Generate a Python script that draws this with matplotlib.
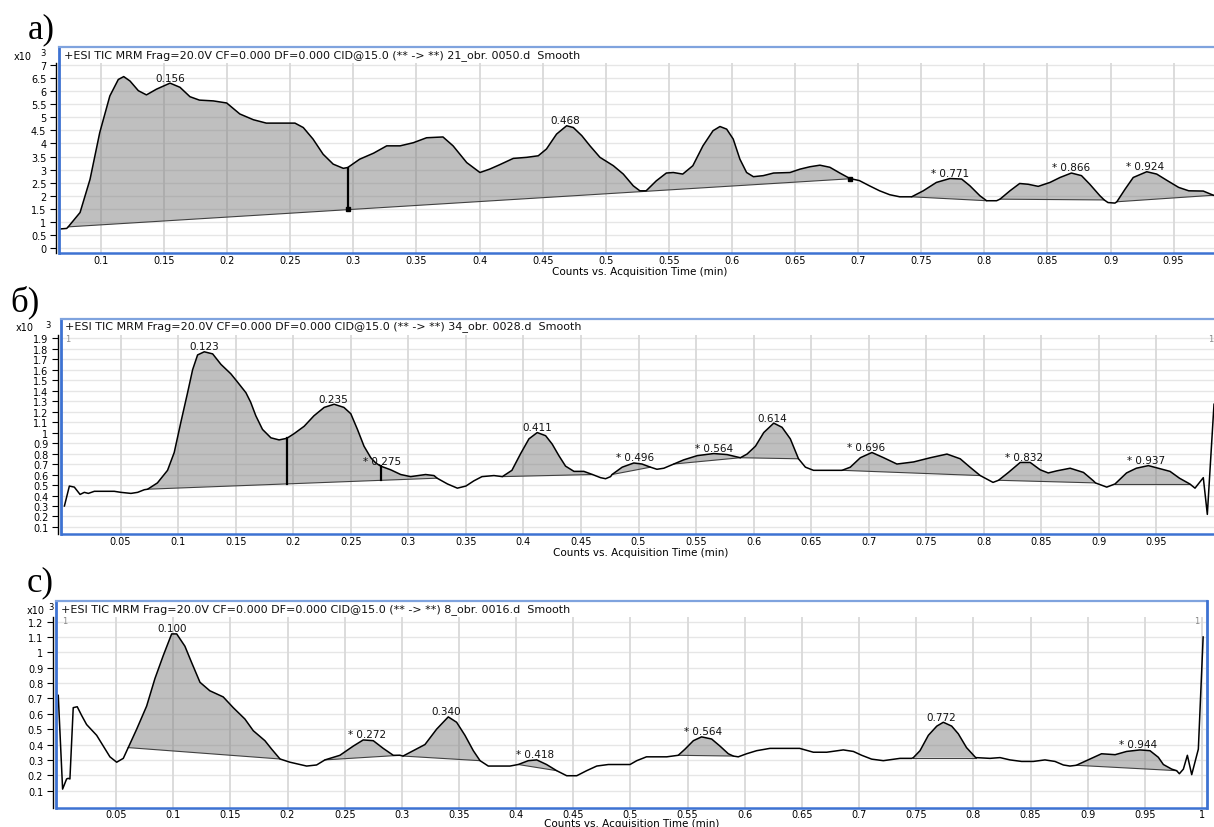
import numpy as np
import matplotlib
matplotlib.use("Agg")
import matplotlib.pyplot as plt
from matplotlib.lines import Line2D

# ---------------- DATA ----------------
# Panel a)
a_x = [0.0675, 0.0728, 0.0740, 0.0834, 0.0913, 0.0990, 0.1070, 0.1137, 0.1180, 0.1230,
       0.1296, 0.1360, 0.1440, 0.1547, 0.1626, 0.1705, 0.1780, 0.1890, 0.1996, 0.2100,
       0.2207, 0.2310, 0.2445, 0.2537, 0.2603, 0.2680, 0.2760, 0.2840, 0.2920, 0.2955,
       0.3050, 0.3160, 0.3264, 0.3370, 0.3475, 0.3580, 0.3710, 0.3790, 0.3898, 0.4003,
       0.4080, 0.4160, 0.4267, 0.4373, 0.4465, 0.4530, 0.4610, 0.4690, 0.4743, 0.4810,
       0.4875, 0.4954, 0.5060, 0.5139, 0.5218, 0.5270, 0.5320, 0.5400, 0.5480, 0.5535,
       0.5610, 0.5690, 0.5770, 0.5850, 0.5905, 0.5958, 0.6010, 0.6063, 0.6116, 0.6170,
       0.6248, 0.6330, 0.6460, 0.6540, 0.6618, 0.6697, 0.6776, 0.6855, 0.6935, 0.7010,
       0.7090, 0.7170, 0.7250, 0.7330, 0.7424, 0.7516, 0.7620, 0.7727, 0.7820, 0.7886,
       0.7965, 0.8018, 0.8097, 0.8124, 0.8203, 0.8280, 0.8348, 0.8427, 0.8520, 0.8600,
       0.8690, 0.8770, 0.8836, 0.8916, 0.8950, 0.8980, 0.9035, 0.9050, 0.9115, 0.9180,
       0.9287, 0.9366, 0.9450, 0.9540, 0.9620, 0.9735, 0.9815]
a_y = [0.73, 0.75, 0.81, 1.36, 2.63, 4.42, 5.82, 6.45, 6.56, 6.39,
       6.02, 5.86, 6.08, 6.31, 6.15, 5.79, 5.66, 5.63, 5.55, 5.13,
       4.91, 4.78, 4.78, 4.78, 4.61, 4.17, 3.59, 3.21, 3.05, 3.08,
       3.40, 3.63, 3.91, 3.91, 4.03, 4.22, 4.25, 3.91, 3.27, 2.89,
       3.02, 3.19, 3.43, 3.47, 3.53, 3.79, 4.36, 4.68, 4.61, 4.30,
       3.91, 3.47, 3.15, 2.83, 2.38, 2.19, 2.19, 2.57, 2.87, 2.89,
       2.83, 3.15, 3.91, 4.49, 4.65, 4.55, 4.17, 3.40, 2.89, 2.73,
       2.77, 2.87, 2.89, 3.02, 3.11, 3.17, 3.09, 2.87, 2.66, 2.58,
       2.38, 2.19, 2.04, 1.96, 1.96, 2.19, 2.51, 2.66, 2.64, 2.38,
       2.00, 1.81, 1.81, 1.87, 2.19, 2.47, 2.44, 2.36, 2.51, 2.70,
       2.87, 2.77, 2.44, 2.00, 1.84, 1.74, 1.72, 1.77, 2.25, 2.70,
       2.92, 2.83, 2.58, 2.32, 2.19, 2.18, 2.02]
# integration baselines: (x_start, y_start, x_end, y_end)
a_peaks = [(0.0740, 0.81, 0.6935, 2.65), (0.7424, 1.96, 0.8018, 1.81),
           (0.8124, 1.87, 0.8950, 1.84), (0.9050, 1.77, 0.9815, 2.02)]
a_dividers = [(0.2955, 3.08, 1.48)]
a_marks_x = [0.2955, 0.6935]
a_marks_y = [1.48, 2.65]
a_labels = ["0.156", "0.468", "* 0.771", "* 0.866", "* 0.924"]
a_label_x = [0.1547, 0.468, 0.7727, 0.869, 0.9273]
a_label_y = [6.31, 4.68, 2.66, 2.87, 2.92]
a_yticks = [0, 0.5, 1, 1.5, 2, 2.5, 3, 3.5, 4, 4.5, 5, 5.5, 6, 6.5, 7]
a_xticks = [0.1, 0.15, 0.2, 0.25, 0.3, 0.35, 0.4, 0.45, 0.5, 0.55, 0.6, 0.65, 0.7,
            0.75, 0.8, 0.85, 0.9, 0.95]

# Panel б)
b_x = [0.0012, 0.0055, 0.0098, 0.0148, 0.0185, 0.0220, 0.0272, 0.0359, 0.0445, 0.0503,
       0.0590, 0.0648, 0.0706, 0.0735, 0.0820, 0.0908, 0.0966, 0.1024, 0.1082, 0.1126,
       0.1169, 0.1227, 0.1300, 0.1372, 0.1458, 0.1517, 0.1589, 0.1630, 0.1675, 0.1733,
       0.1806, 0.1877, 0.1944, 0.2008, 0.2095, 0.2180, 0.2269, 0.2355, 0.2440, 0.2500,
       0.2558, 0.2615, 0.2674, 0.2717, 0.2760, 0.2847, 0.2934, 0.3020, 0.3150, 0.3223,
       0.3250, 0.3340, 0.3426, 0.3500, 0.3570, 0.3640, 0.3744, 0.3817, 0.3900, 0.3976,
       0.4048, 0.4120, 0.4193, 0.4250, 0.4308, 0.4366, 0.4439, 0.4525, 0.4600, 0.4670,
       0.4714, 0.4757, 0.4770, 0.4858, 0.4959, 0.5030, 0.5104, 0.5160, 0.5220, 0.5306,
       0.5393, 0.5510, 0.5654, 0.5770, 0.5885, 0.5943, 0.6016, 0.6088, 0.6175, 0.6247,
       0.6319, 0.6378, 0.6390, 0.6450, 0.6520, 0.6638, 0.6768, 0.6840, 0.6927, 0.7028,
       0.7130, 0.7245, 0.7390, 0.7535, 0.7680, 0.7795, 0.7880, 0.7969, 0.8080, 0.8128,
       0.8214, 0.8316, 0.8403, 0.8490, 0.8560, 0.8634, 0.8750, 0.8866, 0.8952, 0.8970,
       0.9068, 0.9140, 0.9240, 0.9325, 0.9430, 0.9517, 0.9618, 0.9700, 0.9790, 0.9835,
       0.9907, 0.9942, 1.0000]
b_y = [0.30, 0.49, 0.48, 0.41, 0.43, 0.42, 0.44, 0.44, 0.44, 0.43,
       0.42, 0.43, 0.455, 0.46, 0.52, 0.64, 0.81, 1.10, 1.38, 1.60,
       1.74, 1.77, 1.75, 1.65, 1.56, 1.48, 1.38, 1.29, 1.16, 1.03,
       0.95, 0.93, 0.945, 0.99, 1.06, 1.16, 1.24, 1.27, 1.24, 1.18,
       1.03, 0.87, 0.76, 0.71, 0.68, 0.645, 0.60, 0.58, 0.60, 0.59,
       0.565, 0.51, 0.47, 0.49, 0.54, 0.58, 0.59, 0.58, 0.64, 0.80,
       0.94, 1.00, 0.97, 0.89, 0.78, 0.68, 0.63, 0.63, 0.60, 0.57,
       0.56, 0.58, 0.60, 0.67, 0.71, 0.70, 0.67, 0.65, 0.66, 0.70,
       0.74, 0.78, 0.80, 0.79, 0.76, 0.795, 0.87, 1.00, 1.09, 1.05,
       0.94, 0.78, 0.75, 0.67, 0.64, 0.64, 0.64, 0.67, 0.76, 0.81,
       0.76, 0.70, 0.72, 0.76, 0.795, 0.75, 0.67, 0.59, 0.525, 0.545,
       0.62, 0.715, 0.715, 0.645, 0.615, 0.635, 0.66, 0.62, 0.54, 0.52,
       0.48, 0.51, 0.615, 0.66, 0.685, 0.66, 0.63, 0.565, 0.51, 0.47,
       0.57, 0.22, 1.27]
b_peaks = [(0.0735, 0.46, 0.3250, 0.565), (0.3817, 0.58, 0.4600, 0.60),
           (0.4770, 0.60, 0.5104, 0.67), (0.5306, 0.70, 0.5885, 0.76),
           (0.5885, 0.76, 0.6390, 0.75), (0.6768, 0.64, 0.7969, 0.59),
           (0.8128, 0.545, 0.8970, 0.52), (0.9140, 0.51, 0.9790, 0.51)]
b_dividers = [(0.1944, 0.945, 0.51), (0.2760, 0.68, 0.545)]
b_labels = ["0.123", "0.235", "* 0.275", "0.411", "* 0.496", "* 0.564", "0.614",
            "* 0.696", "* 0.832", "* 0.937"]
b_label_x = [0.1224, 0.2352, 0.277, 0.412, 0.4974, 0.5654, 0.6166, 0.698, 0.835, 0.9407]
b_label_y = [1.77, 1.27, 0.68, 1.00, 0.71, 0.80, 1.09, 0.81, 0.715, 0.685]
b_yticks = [0.1, 0.2, 0.3, 0.4, 0.5, 0.6, 0.7, 0.8, 0.9, 1.0, 1.1, 1.2, 1.3, 1.4, 1.5,
            1.6, 1.7, 1.8, 1.9]
b_xticks = [0.05, 0.1, 0.15, 0.2, 0.25, 0.3, 0.35, 0.4, 0.45, 0.5, 0.55, 0.6, 0.65,
            0.7, 0.75, 0.8, 0.85, 0.9, 0.95]

# Panel c)
c_x = [-0.0006, 0.0032, 0.0067, 0.0081, 0.0096, 0.0125, 0.0160, 0.0198, 0.0242, 0.0330,
       0.0388, 0.0446, 0.0505, 0.0563, 0.0606, 0.0680, 0.0767, 0.0840, 0.0913, 0.0986,
       0.1030, 0.1102, 0.1160, 0.1234, 0.1320, 0.1437, 0.1525, 0.1627, 0.1700, 0.1802,
       0.1861, 0.1934, 0.2021, 0.2167, 0.2254, 0.2327, 0.2458, 0.2575, 0.2662, 0.2750,
       0.2837, 0.2925, 0.2983, 0.3010, 0.3099, 0.3202, 0.3304, 0.3406, 0.3479, 0.3552,
       0.3625, 0.3684, 0.3756, 0.3858, 0.3946, 0.4018, 0.4106, 0.4180, 0.4266, 0.4354,
       0.4442, 0.4530, 0.4617, 0.4705, 0.4806, 0.4910, 0.4996, 0.5055, 0.5140, 0.5230,
       0.5317, 0.5418, 0.5477, 0.5550, 0.5622, 0.5710, 0.5783, 0.5856, 0.5900, 0.5943,
       0.6016, 0.6104, 0.6220, 0.6366, 0.6480, 0.6600, 0.6717, 0.6862, 0.6950, 0.7023,
       0.7110, 0.7212, 0.7358, 0.7460, 0.7475, 0.7533, 0.7606, 0.7680, 0.7737, 0.7810,
       0.7868, 0.7940, 0.8014, 0.8020, 0.8145, 0.8233, 0.8320, 0.8422, 0.8524, 0.8626,
       0.8714, 0.8787, 0.8845, 0.8900, 0.9020, 0.9121, 0.9240, 0.9340, 0.9457, 0.9545,
       0.9618, 0.9662, 0.9735, 0.9778, 0.9802, 0.9837, 0.9872, 0.9910, 0.9968, 1.0010]
c_y = [0.72, 0.11, 0.176, 0.18, 0.176, 0.64, 0.646, 0.59, 0.53, 0.46,
       0.39, 0.32, 0.285, 0.31, 0.38, 0.50, 0.65, 0.83, 0.98, 1.12,
       1.12, 1.04, 0.935, 0.805, 0.75, 0.71, 0.64, 0.566, 0.49, 0.425,
       0.37, 0.306, 0.285, 0.26, 0.267, 0.30, 0.33, 0.39, 0.43, 0.425,
       0.375, 0.33, 0.33, 0.325, 0.36, 0.40, 0.50, 0.58, 0.545, 0.46,
       0.36, 0.295, 0.26, 0.26, 0.26, 0.27, 0.295, 0.30, 0.27, 0.23,
       0.197, 0.197, 0.23, 0.26, 0.27, 0.27, 0.27, 0.295, 0.32, 0.32,
       0.32, 0.33, 0.37, 0.425, 0.45, 0.436, 0.39, 0.34, 0.325, 0.32,
       0.34, 0.36, 0.375, 0.375, 0.375, 0.35, 0.35, 0.365, 0.355, 0.33,
       0.305, 0.295, 0.31, 0.31, 0.315, 0.36, 0.46, 0.52, 0.545, 0.52,
       0.47, 0.38, 0.32, 0.315, 0.31, 0.315, 0.30, 0.29, 0.29, 0.30,
       0.29, 0.267, 0.26, 0.265, 0.306, 0.34, 0.334, 0.355, 0.365, 0.36,
       0.317, 0.27, 0.24, 0.23, 0.21, 0.24, 0.33, 0.204, 0.37, 1.10]
c_peaks = [(0.0606, 0.38, 0.1934, 0.306), (0.2327, 0.30, 0.2983, 0.33),
           (0.3010, 0.325, 0.3684, 0.295), (0.4018, 0.27, 0.4354, 0.23),
           (0.5418, 0.33, 0.5900, 0.325), (0.7475, 0.315, 0.8020, 0.315),
           (0.8900, 0.265, 0.9778, 0.23)]
c_dividers = []
c_labels = ["0.100", "* 0.272", "0.340", "* 0.418", "* 0.564", "0.772", "* 0.944"]
c_label_x = [0.0986, 0.2692, 0.3392, 0.4165, 0.5637, 0.7723, 0.9443]
c_label_y = [1.12, 0.43, 0.58, 0.30, 0.45, 0.545, 0.365]
c_yticks = [0.1, 0.2, 0.3, 0.4, 0.5, 0.6, 0.7, 0.8, 0.9, 1.0, 1.1, 1.2]
c_xticks = [0.05, 0.1, 0.15, 0.2, 0.25, 0.3, 0.35, 0.4, 0.45, 0.5, 0.55, 0.6, 0.65,
            0.7, 0.75, 0.8, 0.85, 0.9, 0.95, 1.0]

titles = ["+ESI TIC MRM Frag=20.0V CF=0.000 DF=0.000 CID@15.0 (** -> **) 21_obr. 0050.d  Smooth",
          "+ESI TIC MRM Frag=20.0V CF=0.000 DF=0.000 CID@15.0 (** -> **) 34_obr. 0028.d  Smooth",
          "+ESI TIC MRM Frag=20.0V CF=0.000 DF=0.000 CID@15.0 (** -> **) 8_obr. 0016.d  Smooth"]
panel_names = ["a)", "б)", "c)"]
xlabel_text = "Counts vs. Acquisition Time (min)"

# ---------------- LAYOUT (pixels) ----------------
W, H = 1214, 828
def fx(px): return px / W
def fy(py): return 1 - py / H

panels = [
    dict(x=a_x, y=a_y, peaks=a_peaks, div=a_dividers, lab=a_labels, lx=a_label_x, ly=a_label_y,
         yt=a_yticks, xt=a_xticks, rect=(60, 64, 1214, 254), xlim=(0.0675, 0.982), ylim=(-0.19, 7.08),
         ftop=48, fleft=59, fright=None, title_xy=(64, 56), x10=(23, 57), x10s=(43, 54),
         name_xy=(28, 30), xlab_xy=(640, 272), xpad=1.5, ones=None),
    dict(x=b_x, y=b_y, peaks=b_peaks, div=b_dividers, lab=b_labels, lx=b_label_x, ly=b_label_y,
         yt=b_yticks, xt=b_xticks, rect=(62, 336, 1214, 535), xlim=(-0.0009, 1.0), ylim=(0.033, 1.93),
         ftop=320, fleft=61, fright=None, title_xy=(65, 327), x10=(25, 328), x10s=(48, 326),
         name_xy=(10, 302), xlab_xy=(641, 553), xpad=1.5, ones=[(68, 340), (1211, 340)]),
    dict(x=c_x, y=c_y, peaks=c_peaks, div=c_dividers, lab=c_labels, lx=c_label_x, ly=c_label_y,
         yt=c_yticks, xt=c_xticks, rect=(57, 618, 1206, 809), xlim=(-0.0017, 1.0035), ylim=(-0.013, 1.23),
         ftop=602, fleft=56, fright=1207, title_xy=(61, 610), x10=(36, 611), x10s=(51, 608),
         name_xy=(27, 583), xlab_xy=(632, 824), xpad=0.8, ones=[(65, 622), (1197, 622)]),
]

BLUE = "#3d72d2"
BLUE_L = "#7fa3de"
FILL = "#808080"

fig = plt.figure(figsize=(W / 100, H / 100), dpi=100)
fig.patch.set_facecolor("white")

for i, p in enumerate(panels):
    l, t, r, b = p["rect"]
    ax = fig.add_axes([fx(l), fy(b), fx(r) - fx(l), fy(t) - fy(b)])
    ax.set_xlim(*p["xlim"])
    ax.set_ylim(*p["ylim"])
    xs = np.array(p["x"]); ys = np.array(p["y"])

    # grid
    for yv in p["yt"]:
        ax.axhline(yv, color="#e6e6e6", lw=1.0, zorder=0)
    for xv in p["xt"]:
        ax.axvline(xv, color="#d9d9d9", lw=1.3, zorder=0)

    # integrated peaks
    for (x0, y0, x1, y1) in p["peaks"]:
        m = (xs >= x0 - 1e-9) & (xs <= x1 + 1e-9)
        px_ = np.r_[xs[m], x1, x0]
        py_ = np.r_[ys[m], y1, y0]
        ax.fill(px_, py_, color=FILL, alpha=0.5, lw=0, zorder=1)
        ax.plot([x0, x1], [y0, y1], color="#404040", lw=0.8, zorder=2)
    for (xd, ytop, ybot) in p["div"]:
        ax.plot([xd, xd], [ybot, ytop], color="black", lw=1.6, zorder=3)

    ax.plot(xs, ys, color="black", lw=1.1, zorder=4, solid_joinstyle="round")

    if i == 0:
        ax.plot(a_marks_x, a_marks_y, ls="none", marker="s", ms=3.2, color="black", zorder=5)

    for txt, lx, ly in zip(p["lab"], p["lx"], p["ly"]):
        ax.annotate(txt, xy=(lx, ly), xytext=(0, 4), textcoords="offset points",
                    ha="center", va="center", fontsize=7.5, color="#111111", zorder=6)

    # axes styling
    for s in ["top", "right"]:
        ax.spines[s].set_visible(False)
    ax.spines["bottom"].set_color(BLUE)
    ax.spines["bottom"].set_linewidth(1.8)
    ax.spines["left"].set_color("black")
    ax.spines["left"].set_linewidth(1.0)
    ax.spines["left"].set_position(("outward", 2.9))
    ax.set_yticks(p["yt"])
    ax.set_yticklabels(["%g" % v for v in p["yt"]])
    ax.set_xticks(p["xt"])
    ax.set_xticklabels(["%g" % v for v in p["xt"]])
    ax.tick_params(axis="y", direction="out", length=4, width=0.8, pad=3, labelsize=7)
    ax.tick_params(axis="x", length=0, pad=p["xpad"], labelsize=7)

    # frame lines (blue)
    fig.add_artist(Line2D([fx(p["fleft"]), fx(p["fleft"])], [fy(b), fy(p["ftop"])],
                          color=BLUE, lw=2.0, transform=fig.transFigure, zorder=10))
    right_end = p["fright"] if p["fright"] else W
    fig.add_artist(Line2D([fx(p["fleft"]), fx(right_end)], [fy(p["ftop"]), fy(p["ftop"])],
                          color=BLUE_L, lw=1.6, transform=fig.transFigure, zorder=10))
    if p["fright"]:
        fig.add_artist(Line2D([fx(p["fright"]), fx(p["fright"])], [fy(b), fy(p["ftop"])],
                              color=BLUE, lw=2.0, transform=fig.transFigure, zorder=10))

    # texts
    fig.text(fx(p["title_xy"][0]), fy(p["title_xy"][1]), titles[i],
             ha="left", va="center", fontsize=8, color="#111111")
    fig.text(fx(p["x10"][0]), fy(p["x10"][1]), "x10", ha="center", va="center", fontsize=7)
    fig.text(fx(p["x10s"][0]), fy(p["x10s"][1]), "3", ha="center", va="center", fontsize=6)
    fig.text(fx(p["name_xy"][0]), fy(p["name_xy"][1]), panel_names[i],
             ha="left", va="center", fontsize=25, family="Liberation Serif")
    fig.text(fx(p["xlab_xy"][0]), fy(p["xlab_xy"][1]), xlabel_text,
             ha="center", va="center", fontsize=7.5)
    if p["ones"]:
        for (ox, oy) in p["ones"]:
            fig.text(fx(ox), fy(oy), "1", ha="center", va="center", fontsize=6, color="#888888")

fig.savefig("out.png", dpi=100, facecolor="white")
